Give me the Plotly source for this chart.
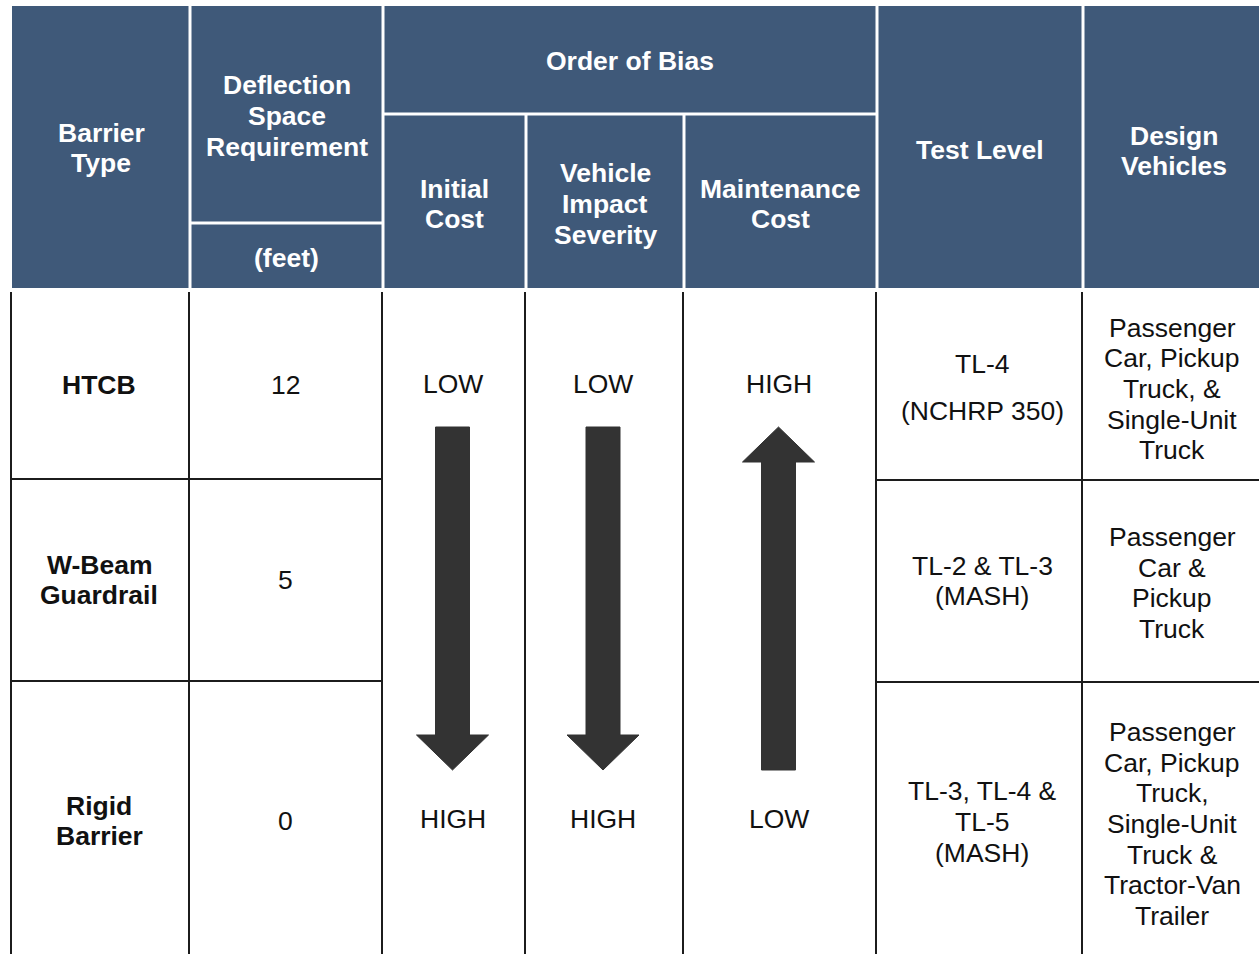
import plotly.graph_objects as go

# ---------------- data (table content) ----------------
header_barrier = ["Barrier", "Type"]
header_deflection = ["Deflection", "Space", "Requirement"]
header_units = ["(feet)"]
header_bias = ["Order of Bias"]
bias_columns = [["Initial", "Cost"], ["Vehicle", "Impact", "Severity"], ["Maintenance", "Cost"]]
header_test = ["Test Level"]
header_design = ["Design", "Vehicles"]

barrier_types = [["HTCB"], ["W-Beam", "Guardrail"], ["Rigid", "Barrier"]]
deflection_ft = ["12", "5", "0"]
bias_top = ["LOW", "LOW", "HIGH"]
bias_bottom = ["HIGH", "HIGH", "LOW"]
bias_direction = ["down", "down", "up"]
test_levels = [["TL-4", "(NCHRP 350)"], ["TL-2 & TL-3", "(MASH)"], ["TL-3, TL-4 &", "TL-5", "(MASH)"]]
design_vehicles = [
    ["Passenger", "Car, Pickup", "Truck, &", "Single-Unit", "Truck"],
    ["Passenger", "Car &", "Pickup", "Truck"],
    ["Passenger", "Car, Pickup", "Truck,", "Single-Unit", "Truck &", "Tractor-Van", "Trailer"],
]

# ---------------- layout geometry ----------------
W, H = 1259, 954
col_x = [12, 190, 383, 526, 684, 877, 1083, 1280]
header_top, header_bottom = 6, 288
bias_split, feet_split = 114, 223
body_top, body_bottom = 292, 980
row_lines = [479, 681]
row_centers = [385, 580, 821]
line_h = 30.7
blue = "#3f5979"
ink = "#111111"
FONT = "Liberation Sans, Arial, sans-serif"
FS = 26.5

fig = go.Figure()
shapes, annos = [], []


def cx(i, j=None):
    j = i + 1 if j is None else j
    return (col_x[i] + col_x[j]) / 2


def text_block(lines, x, y, color=ink, bold=False, spacing=line_h):
    n = len(lines)
    for k, t in enumerate(lines):
        yy = y + (k - (n - 1) / 2) * spacing
        annos.append(dict(
            x=x, y=yy, xref="x", yref="y", showarrow=False,
            text=f"<b>{t}</b>" if bold else t,
            font=dict(family=FONT, size=FS, color=color),
            xanchor="center", yanchor="middle"))


# header background
shapes.append(dict(type="rect", x0=col_x[0], x1=col_x[-1], y0=header_top, y1=header_bottom,
                   fillcolor=blue, line=dict(width=0), layer="below"))
white = dict(color="white", width=3)
for i in [1, 2, 5, 6]:
    shapes.append(dict(type="line", x0=col_x[i], x1=col_x[i], y0=header_top - 2, y1=header_bottom + 2, line=white))
for i in [3, 4]:
    shapes.append(dict(type="line", x0=col_x[i], x1=col_x[i], y0=bias_split, y1=header_bottom + 2, line=white))
shapes.append(dict(type="line", x0=col_x[2], x1=col_x[5], y0=bias_split, y1=bias_split, line=white))
shapes.append(dict(type="line", x0=col_x[1], x1=col_x[2], y0=feet_split, y1=feet_split, line=white))

# header text
text_block(header_barrier, cx(0), 148, "white", True)
text_block(header_deflection, cx(1), 116, "white", True)
text_block(header_units, cx(1), 258, "white", True)
text_block(header_bias, cx(2, 5), 61, "white", True)
for k, lab in enumerate(bias_columns):
    text_block(lab, cx(2 + k), 204, "white", True)
text_block(header_test, cx(5), 150, "white", True)
text_block(header_design, 1174, 151, "white", True)

# body grid
blk = dict(color="#1c1c1c", width=2)
for i in range(7):
    shapes.append(dict(type="line", x0=col_x[i] - 1, x1=col_x[i] - 1, y0=body_top, y1=body_bottom, line=blk))
for y in row_lines:
    shapes.append(dict(type="line", x0=col_x[0] - 1, x1=col_x[2] - 1, y0=y, y1=y, line=blk))
    shapes.append(dict(type="line", x0=col_x[5] - 1, x1=col_x[-1], y0=y + 1, y1=y + 1, line=blk))

# body text
for r in range(3):
    text_block(barrier_types[r], cx(0) - 2, row_centers[r], ink, True)
    text_block([deflection_ft[r]], cx(1) - 1, row_centers[r])
    gap = 47 if r == 0 else line_h
    text_block(test_levels[r], cx(5) + 2, row_centers[r] + (2 if r == 0 else 1), spacing=gap)
    text_block(design_vehicles[r], 1172, row_centers[r] + (3 if r else 4))

# order-of-bias labels and arrows
top_lab_y, bot_lab_y = 384, 819
arrow_top, arrow_bot = 427, 770
shaft_hw, head_hw, head_len = 17, 36, 35
for k in range(3):
    x = cx(2 + k) - 2
    text_block([bias_top[k]], x, top_lab_y)
    text_block([bias_bottom[k]], x, bot_lab_y)
    if bias_direction[k] == "down":
        b = arrow_bot - head_len
        path = (f"M{x - shaft_hw},{arrow_top} L{x + shaft_hw},{arrow_top} L{x + shaft_hw},{b} "
                f"L{x + head_hw},{b} L{x},{arrow_bot} L{x - head_hw},{b} L{x - shaft_hw},{b} Z")
    else:
        b = arrow_top + head_len
        path = (f"M{x - shaft_hw},{arrow_bot} L{x + shaft_hw},{arrow_bot} L{x + shaft_hw},{b} "
                f"L{x + head_hw},{b} L{x},{arrow_top} L{x - head_hw},{b} L{x - shaft_hw},{b} Z")
    shapes.append(dict(type="path", path=path, fillcolor="#333333", line=dict(color="#333333", width=1)))

fig.update_layout(
    width=W, height=H, margin=dict(l=0, r=0, t=0, b=0),
    paper_bgcolor="white", plot_bgcolor="white",
    xaxis=dict(range=[0, W], visible=False, fixedrange=True),
    yaxis=dict(range=[H, 0], visible=False, fixedrange=True),
    shapes=shapes, annotations=annos, showlegend=False,
)
fig.write_html(
    "out.html",
    config={"displayModeBar": False},
    post_script="document.body.style.margin='0';document.body.style.overflow='hidden';",
)
